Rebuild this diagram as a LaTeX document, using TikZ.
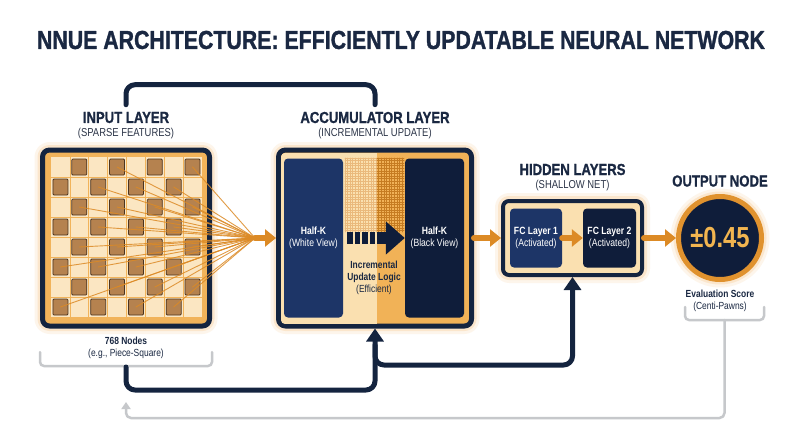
\documentclass[tikz,border=0pt]{standalone}
\usepackage{fontspec}
\setmainfont{Liberation Sans}[FakeStretch=0.82]
\usetikzlibrary{arrows.meta}
\definecolor{navy}{HTML}{14243F}
\definecolor{titletxt}{HTML}{1A2842}
\definecolor{subtxt}{HTML}{2B3447}
\definecolor{panelA}{HTML}{1D3567}
\definecolor{panelB}{HTML}{0F1D3A}
\definecolor{arrowc}{HTML}{DC8A25}
\definecolor{ringc}{HTML}{E0922E}
\definecolor{numc}{HTML}{F2B550}
\definecolor{cream}{HTML}{FAE0B0}
\definecolor{accor}{HTML}{F1B257}
\definecolor{band}{HTML}{F1B35A}
\definecolor{cell}{HTML}{FBE6C2}
\definecolor{brown}{HTML}{B5824F}
\definecolor{brownline}{HTML}{4B3420}
\definecolor{grayc}{HTML}{C6C8CB}
\definecolor{glowc}{HTML}{F5B461}
\begin{document}
\begin{tikzpicture}[x=1pt, y=-1pt, line join=round, line cap=round,
	ttl/.style={font=\bfseries\fontsize{16}{18}\selectfont\addfontfeature{FakeBold=1}, text=titletxt, inner sep=0pt},
	sub/.style={font=\fontsize{11.5}{13}\selectfont, text=subtxt, inner sep=0pt},
	note/.style={font=\fontsize{10.3}{12}\selectfont, text=titletxt, align=center, inner sep=0pt},
	glow/.style={preaction={draw=glowc, line width=16, draw opacity=.12},
		preaction={draw=glowc, line width=10, draw opacity=.22}},
	box/.style={draw=navy, rounded corners=7, line width=5, inner sep=0pt},
	panel/.style={rounded corners=4, inner sep=0pt, text=white, align=center,
		font=\fontsize{10.5}{12}\selectfont},
	flow/.style={draw=arrowc, line width=6, -{Triangle[width=17pt,length=11pt]}},
	fb/.style={draw=navy, line width=5, rounded corners=9, -{Triangle[width=17pt,length=13pt]}},
	brk/.style={draw=grayc, line width=2.5, rounded corners=4},
	fan/.style={draw=arrowc, line width=0.9, draw opacity=.85}]
	\def\cw{18.875} \def\ch{20} \def\bx{51} \def\by{157}
	\fill[white] (0,0) rectangle (800,447);
	\useasboundingbox (0,0) rectangle (800,447);
	\node[font=\bfseries\fontsize{26}{28}\selectfont\addfontfeature{FakeBold=1.2}, text=titletxt] (title) at (401,40)
		{NNUE ARCHITECTURE: EFFICIENTLY UPDATABLE NEURAL NETWORK};
	% input layer
	\node[ttl] (intitle) at (126,117.5) {INPUT LAYER};
	\node[sub] (insub) at (126,133.5) {(SPARSE FEATURES)};
	\node[box, glow, fill=band, minimum width=167pt, minimum height=176pt] (board) at (126,238) {};
	\fill[cell] (\bx,\by) rectangle (202,317);
	\foreach \i in {1,...,7}{
		\draw[band, line width=.6] ({\bx+\i*\cw},\by) -- ++(0,160);
		\draw[band, line width=.6] (\bx,{\by+\i*\ch}) -- ++(151,0);}
	\foreach \r in {1,...,8}{
		\foreach \c in {1,...,8}{
			\pgfmathtruncatemacro\s{\r+\c}
			\ifodd\s
				\draw[fill=brown, draw=brownline, line width=.8, rounded corners=1]
					({\bx+(\c-0.5)*\cw-7.5},{\by+(\r-0.5)*\ch-8}) rectangle ++(15,16);
			\fi}}
	\coordinate (fan) at (255,238);
	\foreach \r/\c in {1/4,1/8,2/3,2/5,2/7,3/2,3/4,3/6,3/8,4/3,4/5,4/7,5/2,5/4,5/6,5/8,
		6/1,6/3,6/5,6/7,7/4,7/6,7/8,8/1,8/5,8/7}{
		\draw[fan] ({\bx+(\c-0.5)*\cw},{\by+(\r-0.5)*\ch}) -- (fan);}
	\node[note] (nodes) at (126,348) {\textbf{768 Nodes}\\(e.g., Piece-Square)};
	\draw[brk] (40,352) |- (126,366) -| (212,352);
	\coordinate (inbrace) at (126,367);
	% accumulator
	\node[ttl] (acctitle) at (375,117.5) {ACCUMULATOR LAYER};
	\node[sub] (accsub) at (375,134) {(INCREMENTAL UPDATE)};
	\node[box, glow, fill=accor, minimum width=193pt, minimum height=176pt] (acc) at (375,238) {};
	\begin{scope}
		\clip[rounded corners=4] (281,153) rectangle (469,324);
		\fill[cream] (281,153) rectangle (377,324);
		\foreach \k in {0,...,12}{
			\draw[arrowc!60, line width=.7] ({345+\k*2.6},158) -- ++(0,74);}
		\foreach \k in {13,...,22}{
			\draw[arrowc!90!black, line width=.7] ({345+\k*2.6},158) -- ++(0,74);}
		\foreach \k in {0,...,28}{
			\draw[arrowc!60, line width=.7] (345,{158+\k*2.6}) -- (377,{158+\k*2.6});
			\draw[arrowc!90!black, line width=.7] (377,{158+\k*2.6}) -- (404,{158+\k*2.6});}
	\end{scope}
	\node[panel, fill=panelA, minimum width=59pt, minimum height=159pt] (wl) at (313.5,238)
		{\textbf{Half-K}\\(White View)};
	\node[panel, fill=panelB, minimum width=59pt, minimum height=159pt] (bl) at (434.5,238)
		{\textbf{Half-K}\\(Black View)};
	\foreach \b in {347,354.5,362,369.5}{
		\fill[panelB] (\b,232) rectangle ++(5.5,12);}
	\coordinate (mid) at (376.5,238);
	\draw[draw=panelB, line width=12, line cap=butt, -{Triangle[width=32pt,length=19pt]}] (mid) -- (bl.west);
	\node[note] (logic) at (374,278) {\textbf{Incremental}\\\textbf{Update Logic}\\(Efficient)};
	% hidden layers
	\node[ttl] (hidtitle) at (572.5,169.5) {HIDDEN LAYERS};
	\node[sub] (hidsub) at (572.5,186) {(SHALLOW NET)};
	\node[box, glow, line width=4, rounded corners=6, fill=cream, minimum width=139pt,
		minimum height=74pt] (hid) at (572.5,238) {};
	\node[panel, fill=panelA, minimum width=52pt, minimum height=59pt] (fc1) at (536,238)
		{\textbf{FC Layer 1}\\(Activated)};
	\node[panel, fill=panelB, minimum width=53pt, minimum height=59pt] (fc2) at (609.5,238)
		{\textbf{FC Layer 2}\\(Activated)};
	% output
	\node[ttl] (outtitle) at (720,181) {OUTPUT NODE};
	\node[circle, glow, draw=ringc, line width=5, fill=panelB, minimum size=83pt, inner sep=0pt,
		text=numc, font=\bfseries\fontsize{29}{30}\selectfont] (out) at (720,238) {±0.45};
	\node[note] (score) at (720,301) {\textbf{Evaluation Score}\\(Centi-Pawns)};
	\draw[brk] (685,307) |- (724.5,320) -| (764,307);
	\coordinate (outbrace) at (724.5,320);
	\coordinate (ghost) at (126,402);
	\coordinate (split) at (375,345);
	\coordinate (turn) at (572.5,365);
	% connectors
	\draw[flow] (fan) -- (acc.west);
	\draw[flow] (acc.east) -- (hid.west);
	\draw[flow] (fc1) -- (fc2);
	\draw[flow] (hid.east) -- (out.west);
	\draw[navy, line width=5, rounded corners=9, shorten <=7pt, shorten >=7pt]
		(intitle.north) -- ++(0,-27) -| (acctitle.north);
	\draw[fb] (inbrace) -- ++(0,23) -| (acc.south);
	\draw[fb] (split) |- (turn) -- (hid.south);
	\draw[grayc, line width=2.5, rounded corners=5, -{Triangle[width=9pt,length=7pt]}]
		(outbrace) -- ++(0,98) -| (ghost);
\end{tikzpicture}
\end{document}
